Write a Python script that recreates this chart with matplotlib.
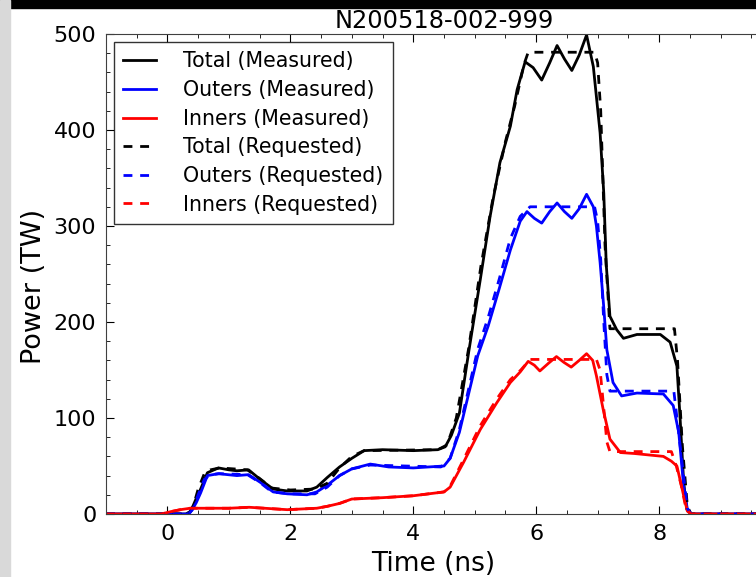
import numpy as np
import matplotlib
matplotlib.use('Agg')
import matplotlib.pyplot as plt
from matplotlib.ticker import MultipleLocator
from matplotlib.patches import Rectangle

# measured power (TW) vs time (ns)
t_tot = [-1, 0.3, 0.38, 0.46, 0.54, 0.65, 0.83, 1.0, 1.13, 1.32, 1.51, 1.72, 1.95, 2.27, 2.43, 2.6, 2.8, 3.0,
         3.2, 3.5, 4.0, 4.4, 4.52, 4.62, 4.75, 4.9, 5.09, 5.25, 5.41, 5.58, 5.69, 5.82, 5.95, 6.09, 6.22, 6.34,
         6.46, 6.58, 6.7, 6.82, 6.93, 7.04, 7.1, 7.14, 7.2, 7.31, 7.42, 7.64, 8.02, 8.18, 8.29, 8.34, 8.4, 8.45,
         8.52, 10]
p_tot = [0, 0, 3, 15, 26, 43, 48, 46, 45, 46, 36, 26, 24, 24, 28, 38, 49, 58,
         66, 67, 66, 67, 70, 82, 105, 168, 244, 310, 366, 404, 442, 471, 465, 452, 470, 488,
         474, 462, 478, 499, 466, 397, 334, 260, 206, 192, 183, 187, 187, 179, 154, 102, 33, 5,
         0, 0]

t_out = [-1, 0.33, 0.4, 0.47, 0.54, 0.65, 0.83, 1.13, 1.32, 1.51, 1.72, 1.95, 2.27, 2.43, 2.6, 2.8, 3.0, 3.3,
         3.6, 4.0, 4.5, 4.6, 4.75, 4.9, 5.05, 5.22, 5.4, 5.58, 5.74, 5.85, 5.97, 6.09, 6.22, 6.34, 6.46, 6.58,
         6.7, 6.82, 6.93, 6.98, 7.04, 7.1, 7.15, 7.25, 7.39, 7.64, 8.07, 8.23, 8.32, 8.4, 8.46, 8.52, 10]
p_out = [0, 0, 4, 12, 22, 40, 42, 40, 41, 33, 23, 21, 20, 23, 30, 40, 47, 52,
         49, 48, 50, 58, 85, 125, 165, 196, 235, 275, 305, 315, 308, 303, 315, 324, 315, 308,
         318, 333, 320, 300, 262, 215, 171, 137, 123, 126, 125, 113, 85, 29, 5, 0, 0]

t_inn = [-1, -0.1, 0.05, 0.21, 0.37, 1.0, 1.33, 1.95, 2.43, 2.6, 2.8, 3.0, 3.5, 4.0, 4.5, 4.6, 4.82, 5.09,
         5.36, 5.58, 5.74, 5.87, 5.97, 6.06, 6.2, 6.33, 6.45, 6.57, 6.7, 6.82, 6.92, 6.98, 7.09, 7.2, 7.37,
         7.6, 8.07, 8.2, 8.29, 8.34, 8.4, 8.46, 8.52, 10]
p_inn = [0, 0, 2.4, 4.5, 6, 6, 7, 4.5, 6, 8, 11, 15.6, 17, 19, 23, 28, 54, 88,
         116, 137, 148, 159, 155, 149, 157, 164, 158, 153, 160, 167, 160, 144, 109, 78, 64,
         63, 60, 55, 50, 36, 19, 3, 0, 0]

# requested pulse shapes
t_tot_req = [-1, 0.35, 0.42, 0.5, 0.6, 0.7, 0.85, 1.3, 1.5, 1.7, 2.0, 2.4, 2.6, 2.8, 3.0, 3.2, 4.4, 4.55,
             4.7, 4.9, 5.1, 5.3, 5.5, 5.65, 5.8, 5.87, 6.95, 7.0, 7.05, 7.12, 7.2, 8.25, 8.3, 8.38, 8.46,
             8.52, 10]
p_tot_req = [0, 0, 8, 26, 42, 46, 48, 46, 37, 27, 25, 26, 32, 48, 60, 66, 67, 72,
             100, 172, 258, 330, 388, 425, 468, 481, 481, 470, 420, 280, 193, 193, 160, 70, 8,
             0, 0]

t_out_req = [-1, 0.35, 0.42, 0.5, 0.6, 0.7, 0.85, 1.3, 1.5, 1.7, 2.0, 2.4, 2.6, 2.8, 3.0, 3.3, 4.45, 4.6,
             4.75, 4.9, 5.05, 5.22, 5.4, 5.58, 5.74, 5.9, 6.95, 7.0, 7.05, 7.1, 7.15, 7.2, 8.24, 8.3, 8.38,
             8.46, 8.52, 10]
p_out_req = [0, 0, 6, 20, 36, 41, 42, 41, 33, 23, 21, 21, 28, 40, 47, 51, 49, 58,
             88, 130, 172, 205, 245, 287, 310, 320, 320, 305, 265, 200, 145, 128, 128, 95, 50,
             6, 0, 0]

t_inn_req = [-1, -0.1, 0.05, 0.21, 0.37, 1.0, 1.33, 1.95, 2.43, 2.6, 2.8, 3.0, 3.5, 4.0, 4.5, 4.6, 4.82,
             5.09, 5.36, 5.58, 5.75, 5.9, 6.98, 7.04, 7.1, 7.15, 7.2, 8.2, 8.28, 8.36, 8.44, 8.52, 10]
p_inn_req = [0, 0, 2.4, 4.5, 6, 6, 7, 4.5, 6, 8, 11, 15.6, 17, 19, 23, 29, 57,
             92, 120, 140, 150, 161, 161, 150, 110, 75, 65, 65, 50, 30, 5, 0, 0]

x_ticks = [0, 2, 4, 6, 8]

plt.rcParams['font.family'] = 'DejaVu Sans'

W, H = 756, 577
fig = plt.figure(figsize=(W / 100, H / 100), dpi=100)
fig.patch.set_facecolor('white')

# frame of the screenshot: black strip on top, grey strip on the left
fig.add_artist(Rectangle((0, 1 - 8 / H), 1, 8 / H, transform=fig.transFigure, color='black', zorder=10))
fig.add_artist(Rectangle((0, 0), 10 / W, 1, transform=fig.transFigure, color='#d9d9d9', zorder=10))

# axes runs past the right edge (xlim -1..10), like the cropped original
ax = fig.add_axes([106 / W, 1 - 514 / H, 676 / W, 480 / H])

dash = (0, (3.2, 2.8))
ax.plot(t_tot, p_tot, color='black', lw=2, label='Total (Measured)')
ax.plot(t_out, p_out, color='blue', lw=2, label='Outers (Measured)')
ax.plot(t_inn, p_inn, color='red', lw=2, label='Inners (Measured)')
ax.plot(t_tot_req, p_tot_req, color='black', lw=2, ls=dash, label='Total (Requested)')
ax.plot(t_out_req, p_out_req, color='blue', lw=2, ls=dash, label='Outers (Requested)')
ax.plot(t_inn_req, p_inn_req, color='red', lw=2, ls=dash, label='Inners (Requested)')

ax.set_xlim(-1, 10)
ax.set_ylim(0, 500)
ax.set_xticks(x_ticks)
ax.xaxis.set_minor_locator(MultipleLocator(0.5))
ax.yaxis.set_major_locator(MultipleLocator(100))
ax.yaxis.set_minor_locator(MultipleLocator(20))
ax.tick_params(which='both', direction='in', top=True, right=True, labelsize=16, pad=7)
ax.tick_params(which='major', length=6)
ax.tick_params(which='minor', length=3)
for s in ax.spines.values():
    s.set_color('0.25')

ax.set_xlabel('Time (ns)', fontsize=19)
ax.set_ylabel('Power (TW)', fontsize=19.5)
ax.xaxis.set_label_coords(0.4837, -0.078)
ax.yaxis.set_label_coords(-0.088, 0.475)
ax.set_title('N200518-002-999', fontsize=17.3, pad=4)

leg = ax.legend(loc='upper left', fontsize=14.8, fancybox=False, frameon=True,
                handlelength=1.56, handletextpad=1.35, labelspacing=0.42,
                borderpad=0.45, borderaxespad=0.4)
leg.get_frame().set_edgecolor('black')
leg.get_frame().set_linewidth(1)

fig.savefig('out.png', dpi=100)
